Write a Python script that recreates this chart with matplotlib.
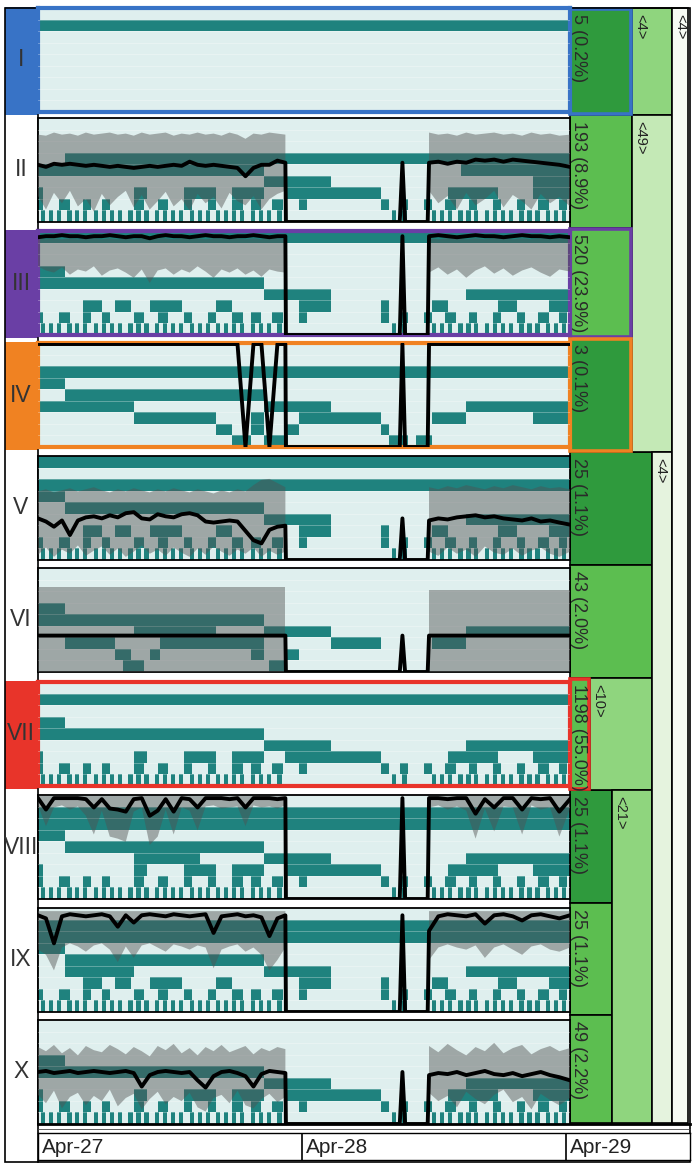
import matplotlib
matplotlib.use("Agg")
import matplotlib.pyplot as plt
import numpy as np
from matplotlib.patches import Rectangle

plt.rcParams["font.family"] = ["Liberation Sans", "DejaVu Sans"]

# ---------------- data ----------------
CLUSTERS = ["I", "II", "III", "IV", "V", "VI", "VII", "VIII", "IX", "X"]
COUNTS = ["5 (0.2%)", "193 (8.9%)", "520 (23.9%)", "3 (0.1%)", "25 (1.1%)",
          "43 (2.0%)", "1198 (55.0%)", "25 (1.1%)", "25 (1.1%)", "49 (2.2%)"]
LEAF_SHADE = ["dark", "mid", "mid", "dark", "dark", "mid", "mid", "dark", "mid", "mid"]
HIGHLIGHT = {0: "#3873c6", 2: "#6a3fa5", 3: "#f08222", 6: "#e8342a"}

TICK_DAYS = [0, 1, 2]
TICK_LABELS = ["Apr-27", "Apr-28", "Apr-29"]

# time grid (days since Apr-27 00:00)
T_A = [0.00, 0.03, 0.06, 0.09, 0.12, 0.15, 0.18, 0.21, 0.24, 0.27, 0.30, 0.33, 0.36, 0.39, 0.42, 0.45,
       0.48, 0.51, 0.54, 0.57, 0.60, 0.63, 0.66, 0.69, 0.72, 0.75, 0.78, 0.81, 0.84, 0.87, 0.90, 0.93]
T_GAP = [0.932, 1.36, 1.37, 1.38, 1.465]
T_B = [1.47, 1.505, 1.54, 1.575, 1.61, 1.645, 1.68, 1.715, 1.75, 1.785, 1.82, 1.855, 1.89, 1.925, 1.96, 2.00]

# hierarchical segment rows (start, end) in days
ROW_FULL = [(0.00, 2.00)]
ROW_HEAD = [(0.00, 0.10)]
ROW_BODY = [(0.10, 0.85)]
ROW_LEFT = [(0.00, 0.85)]
ROW_TAIL = [(0.10, 2.00)]
ROW_MID = [(0.85, 1.10), (1.61, 2.00)]
ROW_STEP = [(0.00, 0.02), (0.36, 0.41), (0.55, 0.67), (0.73, 0.85), (0.93, 1.29), (1.54, 1.73), (1.86, 2.00)]
ROW_SPARSE = [(0.17, 0.24), (0.29, 0.35), (0.42, 0.54), (0.67, 0.73), (0.98, 1.10), (1.29, 1.32),
              (1.48, 1.54), (1.73, 1.80), (1.92, 2.00)]
ROW_MED = [(0.00, 0.02), (0.08, 0.12), (0.17, 0.20), (0.24, 0.27), (0.36, 0.40), (0.45, 0.49), (0.55, 0.58),
           (0.64, 0.67), (0.73, 0.77), (0.80, 0.84), (0.88, 0.92), (0.98, 1.01), (1.29, 1.32), (1.36, 1.39),
           (1.45, 1.48), (1.53, 1.57), (1.62, 1.65), (1.71, 1.74), (1.80, 1.83), (1.88, 1.92), (1.96, 1.99)]
FINE_STARTS = [0.01, 0.04, 0.07, 0.11, 0.14, 0.17, 0.21, 0.24, 0.27, 0.30, 0.34, 0.37, 0.40, 0.44, 0.47,
               0.50, 0.53, 0.57, 0.60, 0.63, 0.67, 0.70, 0.73, 0.76, 0.80, 0.83, 0.86, 0.90, 1.33, 1.37,
               1.48, 1.51, 1.54, 1.58, 1.61, 1.64, 1.68, 1.71, 1.74, 1.77, 1.81, 1.84, 1.87, 1.91, 1.94, 1.97]
ROW_FINE = [(s, s + 0.016) for s in FINE_STARTS]

IV_R5 = [(0.00, 0.36), (0.85, 1.10), (1.61, 2.00)]
IV_R6 = [(0.36, 0.67), (0.80, 0.85), (0.98, 1.29), (1.48, 1.61), (1.86, 2.00)]
IV_R7 = [(0.67, 0.73), (0.80, 0.85), (0.93, 0.98), (1.29, 1.32)]
IV_R8 = [(0.73, 0.80), (0.85, 0.94), (1.32, 1.39), (1.42, 1.48)]
VI_R5 = [(0.36, 0.67), (0.85, 1.10), (1.61, 2.00)]
VI_R6 = [(0.10, 0.29), (0.46, 0.85), (1.10, 1.29), (1.48, 1.61)]
VI_R7 = [(0.29, 0.35), (0.42, 0.46), (0.80, 0.85), (0.93, 0.98)]
VI_R8 = [(0.32, 0.40), (0.87, 0.93)]
VIII_R5 = [(0.36, 0.61), (0.85, 1.10), (1.61, 2.00)]
IX_R5 = [(0.10, 0.36), (0.85, 1.10), (1.61, 2.00)]

PANEL_ROWS = [
    {1: ROW_FULL},
    {3: ROW_TAIL, 4: [(0.00, 0.85), (1.59, 2.00)], 5: [(0.85, 1.10), (1.86, 2.00)], 6: ROW_STEP, 7: ROW_MED, 8: ROW_FINE},
    {0: ROW_FULL, 3: ROW_HEAD, 4: ROW_LEFT, 5: ROW_MID, 6: ROW_SPARSE, 7: ROW_MED, 8: ROW_FINE},
    {2: ROW_FULL, 3: ROW_HEAD, 4: ROW_BODY, 5: IV_R5, 6: IV_R6, 7: IV_R7, 8: IV_R8},
    {0: ROW_FULL, 2: ROW_FULL, 3: ROW_HEAD, 4: ROW_BODY, 5: ROW_MID, 6: ROW_SPARSE, 7: ROW_MED, 8: ROW_FINE},
    {3: ROW_HEAD, 4: ROW_LEFT, 5: VI_R5, 6: VI_R6, 7: VI_R7, 8: VI_R8},
    {1: ROW_FULL, 3: ROW_HEAD, 4: ROW_LEFT, 5: ROW_MID, 6: ROW_STEP, 7: ROW_MED, 8: ROW_FINE},
    {1: ROW_FULL, 2: ROW_FULL, 3: ROW_HEAD, 4: ROW_BODY, 5: VIII_R5, 6: ROW_STEP, 7: ROW_MED, 8: ROW_FINE},
    {1: ROW_FULL, 2: ROW_FULL, 3: ROW_HEAD, 4: ROW_BODY, 5: IX_R5, 6: ROW_SPARSE, 7: ROW_MED, 8: ROW_FINE},
    {3: ROW_HEAD, 4: ROW_LEFT, 5: ROW_MID, 6: ROW_STEP, 7: ROW_MED, 8: ROW_FINE},
]

# mean profile (fraction of panel height) and min/max band
II_LINE_A = [0.55, 0.53, 0.56, 0.55, 0.56, 0.55, 0.54, 0.55, 0.54, 0.53, 0.54, 0.53, 0.52, 0.53, 0.54, 0.53,
             0.54, 0.55, 0.54, 0.58, 0.55, 0.54, 0.55, 0.54, 0.53, 0.52, 0.44, 0.52, 0.55, 0.55, 0.59, 0.57]
II_LINE_B = [0.57, 0.58, 0.56, 0.58, 0.57, 0.60, 0.59, 0.60, 0.58, 0.60, 0.59, 0.58, 0.57, 0.56, 0.55, 0.53]
II_UP_A = [0.84, 0.83, 0.86, 0.84, 0.85, 0.83, 0.86, 0.84, 0.85, 0.86, 0.84, 0.85, 0.83, 0.86, 0.84, 0.85,
           0.86, 0.83, 0.85, 0.84, 0.86, 0.84, 0.85, 0.83, 0.86, 0.84, 0.80, 0.85, 0.84, 0.86, 0.85, 0.84]
II_LO_A = [0.25, 0.12, 0.28, 0.18, 0.30, 0.15, 0.22, 0.10, 0.27, 0.16, 0.24, 0.30, 0.14, 0.26, 0.12, 0.20,
           0.29, 0.15, 0.22, 0.11, 0.27, 0.18, 0.24, 0.13, 0.28, 0.20, 0.16, 0.25, 0.12, 0.22, 0.27, 0.30]
II_UP_B = [0.86, 0.84, 0.85, 0.83, 0.86, 0.84, 0.85, 0.86, 0.84, 0.85, 0.83, 0.86, 0.84, 0.85, 0.83, 0.84]
II_LO_B = [0.30, 0.18, 0.25, 0.12, 0.28, 0.16, 0.22, 0.30, 0.14, 0.26, 0.20, 0.12, 0.27, 0.18, 0.24, 0.15]

III_LINE_A = [0.94, 0.95, 0.95, 0.96, 0.95, 0.95, 0.94, 0.95, 0.95, 0.96, 0.95, 0.94, 0.95, 0.95, 0.93, 0.95,
              0.96, 0.95, 0.95, 0.94, 0.95, 0.96, 0.95, 0.95, 0.94, 0.95, 0.95, 0.96, 0.95, 0.94, 0.95, 0.95]
III_LINE_B = [0.95, 0.96, 0.95, 0.94, 0.95, 0.96, 0.95, 0.95, 0.94, 0.95, 0.96, 0.95, 0.95, 0.94, 0.95, 0.94]
III_UP_A = [0.93, 0.92, 0.93, 0.92, 0.93, 0.92, 0.93, 0.93, 0.92, 0.93, 0.92, 0.93, 0.92, 0.93, 0.92, 0.93,
            0.93, 0.92, 0.93, 0.92, 0.93, 0.92, 0.93, 0.93, 0.92, 0.93, 0.92, 0.93, 0.92, 0.93, 0.93, 0.92]
III_LO_A = [0.66, 0.62, 0.60, 0.65, 0.58, 0.63, 0.61, 0.66, 0.57, 0.62, 0.64, 0.60, 0.55, 0.63, 0.50, 0.62,
            0.64, 0.58, 0.63, 0.60, 0.66, 0.61, 0.55, 0.63, 0.60, 0.64, 0.58, 0.62, 0.56, 0.63, 0.61, 0.60]
III_UP_B = [0.93, 0.92, 0.93, 0.93, 0.92, 0.93, 0.92, 0.93, 0.93, 0.92, 0.93, 0.92, 0.93, 0.92, 0.93, 0.93]
III_LO_B = [0.60, 0.65, 0.58, 0.63, 0.55, 0.62, 0.66, 0.59, 0.64, 0.57, 0.62, 0.65, 0.60, 0.56, 0.63, 0.61]

IV_LINE_A = [0.99, 0.99, 0.99, 0.99, 0.99, 0.99, 0.99, 0.99, 0.99, 0.99, 0.99, 0.99, 0.99, 0.99, 0.99, 0.99,
             0.99, 0.99, 0.99, 0.99, 0.99, 0.99, 0.99, 0.99, 0.99, 0.99, 0.00, 0.99, 0.99, 0.00, 0.99, 0.99]
IV_LINE_B = [0.99, 0.99, 0.99, 0.99, 0.99, 0.99, 0.99, 0.99, 0.99, 0.99, 0.99, 0.99, 0.99, 0.99, 0.99, 0.99]

V_LINE_A = [0.40, 0.37, 0.32, 0.38, 0.24, 0.38, 0.41, 0.42, 0.40, 0.43, 0.41, 0.45, 0.46, 0.40, 0.39, 0.44,
            0.42, 0.41, 0.44, 0.45, 0.43, 0.37, 0.36, 0.37, 0.38, 0.37, 0.28, 0.19, 0.16, 0.29, 0.32, 0.33]
V_LINE_B = [0.38, 0.40, 0.39, 0.41, 0.42, 0.43, 0.41, 0.42, 0.40, 0.39, 0.38, 0.40, 0.37, 0.38, 0.36, 0.34]
V_UP_A = [0.66, 0.68, 0.65, 0.67, 0.69, 0.66, 0.68, 0.70, 0.67, 0.65, 0.68, 0.66, 0.69, 0.67, 0.65, 0.68,
          0.66, 0.69, 0.67, 0.65, 0.68, 0.66, 0.64, 0.67, 0.65, 0.68, 0.66, 0.72, 0.77, 0.78, 0.74, 0.70]
V_LO_A = [0.05, 0.12, 0.03, 0.10, 0.06, 0.14, 0.04, 0.09, 0.13, 0.05, 0.11, 0.03, 0.08, 0.14, 0.06, 0.10,
          0.04, 0.12, 0.07, 0.03, 0.11, 0.05, 0.13, 0.08, 0.04, 0.10, 0.06, 0.12, 0.03, 0.09, 0.05, 0.08]
V_UP_B = [0.70, 0.68, 0.71, 0.69, 0.72, 0.70, 0.68, 0.71, 0.69, 0.72, 0.70, 0.68, 0.71, 0.69, 0.70, 0.68]
V_LO_B = [0.08, 0.04, 0.12, 0.06, 0.10, 0.03, 0.13, 0.07, 0.05, 0.11, 0.04, 0.09, 0.12, 0.06, 0.03, 0.08]

VI_LINE_A = [0.35, 0.35, 0.35, 0.35, 0.35, 0.35, 0.35, 0.35, 0.35, 0.35, 0.35, 0.35, 0.35, 0.35, 0.35, 0.35,
             0.35, 0.35, 0.35, 0.35, 0.35, 0.35, 0.35, 0.35, 0.35, 0.35, 0.35, 0.35, 0.35, 0.35, 0.35, 0.35]
VI_LINE_B = [0.35, 0.35, 0.35, 0.35, 0.35, 0.35, 0.35, 0.35, 0.35, 0.35, 0.35, 0.35, 0.35, 0.35, 0.35, 0.35]
VI_UP_A = [0.82, 0.82, 0.82, 0.82, 0.82, 0.82, 0.82, 0.82, 0.82, 0.82, 0.82, 0.82, 0.82, 0.82, 0.82, 0.82,
           0.82, 0.82, 0.82, 0.82, 0.82, 0.82, 0.82, 0.82, 0.82, 0.82, 0.82, 0.82, 0.82, 0.82, 0.82, 0.82]
VI_LO_A = [0.00, 0.00, 0.00, 0.00, 0.00, 0.00, 0.00, 0.00, 0.00, 0.00, 0.00, 0.00, 0.00, 0.00, 0.00, 0.00,
           0.00, 0.00, 0.00, 0.00, 0.00, 0.00, 0.00, 0.00, 0.00, 0.00, 0.00, 0.00, 0.00, 0.00, 0.00, 0.00]
VI_UP_B = [0.79, 0.79, 0.79, 0.79, 0.79, 0.79, 0.79, 0.79, 0.79, 0.79, 0.79, 0.79, 0.79, 0.79, 0.79, 0.79]
VI_LO_B = [0.00, 0.00, 0.00, 0.00, 0.00, 0.00, 0.00, 0.00, 0.00, 0.00, 0.00, 0.00, 0.00, 0.00, 0.00, 0.00]

VIII_LINE_A = [0.97, 0.86, 0.97, 0.97, 0.97, 0.97, 0.96, 0.88, 0.96, 0.87, 0.86, 0.84, 0.96, 0.97, 0.80, 0.85,
               0.96, 0.84, 0.97, 0.96, 0.88, 0.97, 0.97, 0.97, 0.96, 0.97, 0.88, 0.97, 0.97, 0.97, 0.96, 0.97]
VIII_LINE_B = [0.97, 0.97, 0.96, 0.97, 0.97, 0.82, 0.96, 0.88, 0.97, 0.97, 0.86, 0.97, 0.96, 0.97, 0.84, 0.96]
VIII_UP_A = [0.99, 0.99, 0.99, 0.99, 0.99, 0.99, 0.99, 0.99, 0.99, 0.99, 0.99, 0.99, 0.99, 0.99, 0.99, 0.99,
             0.99, 0.99, 0.99, 0.99, 0.99, 0.99, 0.99, 0.99, 0.99, 0.99, 0.99, 0.99, 0.99, 0.99, 0.99, 0.99]
VIII_LO_A = [0.90, 0.70, 0.88, 0.90, 0.86, 0.89, 0.80, 0.62, 0.85, 0.60, 0.58, 0.55, 0.84, 0.88, 0.52, 0.60,
             0.86, 0.62, 0.88, 0.85, 0.66, 0.89, 0.90, 0.87, 0.88, 0.89, 0.70, 0.90, 0.88, 0.89, 0.87, 0.90]
VIII_UP_B = [0.99, 0.99, 0.99, 0.99, 0.99, 0.99, 0.99, 0.99, 0.99, 0.99, 0.99, 0.99, 0.99, 0.99, 0.99, 0.99]
VIII_LO_B = [0.88, 0.90, 0.86, 0.89, 0.85, 0.58, 0.87, 0.65, 0.89, 0.88, 0.62, 0.90, 0.86, 0.88, 0.60, 0.87]

IX_LINE_A = [0.93, 0.90, 0.66, 0.92, 0.94, 0.93, 0.92, 0.93, 0.94, 0.92, 0.82, 0.93, 0.86, 0.93, 0.94, 0.93,
             0.92, 0.94, 0.93, 0.92, 0.93, 0.94, 0.76, 0.92, 0.93, 0.94, 0.92, 0.93, 0.91, 0.73, 0.90, 0.93]
IX_LINE_B = [0.78, 0.92, 0.94, 0.93, 0.92, 0.94, 0.85, 0.93, 0.94, 0.92, 0.88, 0.93, 0.94, 0.92, 0.90, 0.93]
IX_UP_A = [0.97, 0.97, 0.97, 0.97, 0.97, 0.97, 0.97, 0.97, 0.97, 0.97, 0.97, 0.97, 0.97, 0.97, 0.97, 0.97,
           0.97, 0.97, 0.97, 0.97, 0.97, 0.97, 0.97, 0.97, 0.97, 0.97, 0.97, 0.97, 0.97, 0.97, 0.97, 0.97]
IX_LO_A = [0.60, 0.55, 0.40, 0.62, 0.66, 0.63, 0.58, 0.64, 0.66, 0.60, 0.48, 0.63, 0.52, 0.64, 0.66, 0.62,
           0.58, 0.65, 0.63, 0.60, 0.64, 0.62, 0.42, 0.60, 0.63, 0.65, 0.58, 0.62, 0.55, 0.40, 0.50, 0.62]
IX_UP_B = [0.97, 0.97, 0.97, 0.97, 0.97, 0.97, 0.97, 0.97, 0.97, 0.97, 0.97, 0.97, 0.97, 0.97, 0.97, 0.97]
IX_LO_B = [0.50, 0.62, 0.65, 0.62, 0.60, 0.64, 0.52, 0.62, 0.65, 0.60, 0.55, 0.63, 0.65, 0.60, 0.58, 0.62]

X_LINE_A = [0.50, 0.51, 0.49, 0.50, 0.51, 0.49, 0.50, 0.51, 0.50, 0.49, 0.50, 0.51, 0.49, 0.36, 0.47, 0.50,
            0.51, 0.50, 0.49, 0.50, 0.42, 0.35, 0.46, 0.50, 0.51, 0.49, 0.46, 0.36, 0.48, 0.51, 0.50, 0.49]
X_LINE_B = [0.47, 0.49, 0.48, 0.50, 0.47, 0.49, 0.51, 0.48, 0.47, 0.49, 0.46, 0.48, 0.50, 0.47, 0.45, 0.42]
X_UP_A = [0.74, 0.70, 0.76, 0.68, 0.73, 0.66, 0.75, 0.71, 0.69, 0.76, 0.72, 0.67, 0.74, 0.70, 0.65, 0.75,
          0.71, 0.77, 0.68, 0.73, 0.66, 0.74, 0.70, 0.76, 0.69, 0.72, 0.75, 0.67, 0.73, 0.70, 0.74, 0.72]
X_LO_A = [0.28, 0.20, 0.32, 0.15, 0.26, 0.30, 0.18, 0.27, 0.22, 0.33, 0.17, 0.25, 0.29, 0.14, 0.24, 0.31,
          0.19, 0.26, 0.22, 0.30, 0.16, 0.12, 0.25, 0.28, 0.20, 0.32, 0.18, 0.15, 0.24, 0.29, 0.21, 0.26]
X_UP_B = [0.75, 0.69, 0.77, 0.71, 0.66, 0.74, 0.70, 0.78, 0.68, 0.73, 0.76, 0.67, 0.72, 0.75, 0.70, 0.73]
X_LO_B = [0.30, 0.22, 0.27, 0.16, 0.31, 0.24, 0.19, 0.28, 0.33, 0.21, 0.26, 0.14, 0.29, 0.23, 0.18, 0.25]

# panel index -> (line A, line B, upper A, upper B, lower A, lower B, spike height)
SERIES = {
    1: (II_LINE_A, II_LINE_B, II_UP_A, II_UP_B, II_LO_A, II_LO_B, 0.57),
    2: (III_LINE_A, III_LINE_B, III_UP_A, III_UP_B, III_LO_A, III_LO_B, 0.95),
    3: (IV_LINE_A, IV_LINE_B, None, None, None, None, 0.99),
    4: (V_LINE_A, V_LINE_B, V_UP_A, V_UP_B, V_LO_A, V_LO_B, 0.40),
    5: (VI_LINE_A, VI_LINE_B, VI_UP_A, VI_UP_B, VI_LO_A, VI_LO_B, 0.35),
    7: (VIII_LINE_A, VIII_LINE_B, VIII_UP_A, VIII_UP_B, VIII_LO_A, VIII_LO_B, 0.97),
    8: (IX_LINE_A, IX_LINE_B, IX_UP_A, IX_UP_B, IX_LO_A, IX_LO_B, 0.93),
    9: (X_LINE_A, X_LINE_B, X_UP_A, X_UP_B, X_LO_A, X_LO_B, 0.50),
}

# cluster tree: (label, first cluster, last cluster, left px, right px, shade)
LEAF_RIGHT = [632, 632, 632, 632, 652, 652, 590, 612, 612, 612]
TREE_NODES = [
    ("<4>", 0, 0, 632, 672, "light"),
    ("<49>", 1, 3, 632, 672, "pale"),
    ("<10>", 6, 6, 590, 652, "light"),
    ("<21>", 7, 9, 612, 652, "light"),
    ("<4>", 4, 9, 652, 672, "paler"),
    ("<4>", 0, 9, 672, 688, "palest"),
]

# ---------------- layout / style ----------------
W, H = 692, 1166
PLOT_X0, PLOT_X1 = 38, 570
PANEL_TOPS = [8, 118, 231, 343, 456, 568, 682, 795, 908, 1020]
PANEL_H = 104
TREE_Y = [8, 115, 228, 338, 452, 565, 678, 790, 903, 1015, 1123]
N_ROWS = 9

BG = "#dfefee"
TEAL = "#1f827e"
BAND = "#505050"
SHADES = {"dark": "#2f9a3d", "mid": "#5cbe50", "light": "#8fd57e", "pale": "#c4e9b6",
          "paler": "#e5f3de", "palest": "#f7fbf4"}


def fig_box(x0, y0, x1, y1):
    return [x0 / W, 1 - y1 / H, (x1 - x0) / W, (y1 - y0) / H]


fig = plt.figure(figsize=(W / 100, H / 100), dpi=100)
fig.patch.set_facecolor("white")

ov = fig.add_axes([0, 0, 1, 1])
ov.set_xlim(0, W)
ov.set_ylim(H, 0)
ov.axis("off")

# outer frame and label column
ov.add_patch(Rectangle((5, 8), 685, 1154, facecolor="none", edgecolor="black", lw=1.2, zorder=5))
ov.plot([38, 38], [8, 1162], color="black", lw=1.2, zorder=5)
for i, name in enumerate(CLUSTERS):
    top = PANEL_TOPS[i]
    if i in HIGHLIGHT:
        ov.add_patch(Rectangle((5, top - 1), 33, PANEL_H + 4, facecolor=HIGHLIGHT[i], edgecolor="none", zorder=2))
    ov.text(21, top + PANEL_H / 2, name, ha="center", va="center", fontsize=16.5, color="#333333", zorder=6)

# bottom strip lines
ov.plot([38, 690], [1124, 1124], color="black", lw=2.0, zorder=5)
ov.plot([38, 690], [1128.5, 1128.5], color="#444444", lw=0.6, zorder=5)

# tree
for i in range(len(CLUSTERS)):
    y0, y1 = TREE_Y[i], TREE_Y[i + 1]
    ov.add_patch(Rectangle((570, y0), LEAF_RIGHT[i] - 570, y1 - y0, facecolor=SHADES[LEAF_SHADE[i]],
                           edgecolor="black", lw=1.2, zorder=3))
for label, first, last, x0, x1, shade in TREE_NODES:
    y0, y1 = TREE_Y[first], TREE_Y[last + 1]
    ov.add_patch(Rectangle((x0, y0), x1 - x0, y1 - y0, facecolor=SHADES[shade],
                           edgecolor="black", lw=1.2, zorder=3))
    ov.text(x0 + 8, y0 + 6, label, rotation=-90, ha="center", va="top", fontsize=10.5,
            color="#222222", zorder=6)
for i in range(len(CLUSTERS)):
    y0, y1 = TREE_Y[i], TREE_Y[i + 1]
    if i in HIGHLIGHT:
        ov.add_patch(Rectangle((570, y0 + 1), LEAF_RIGHT[i] - 570 - 1, y1 - y0 - 2, facecolor="none",
                               edgecolor=HIGHLIGHT[i], lw=2.6, zorder=4))
    ov.text(579, y0 + 6, COUNTS[i], rotation=-90, ha="center", va="top", fontsize=13,
            color="#2a2a2a", zorder=6)

# panels
for i, name in enumerate(CLUSTERS):
    top = PANEL_TOPS[i]
    ax = fig.add_axes(fig_box(PLOT_X0, top, PLOT_X1, top + PANEL_H))
    ax.set_xlim(0, 2)
    ax.set_ylim(0, 1)
    ax.set_facecolor(BG)
    ax.set_xticks([])
    ax.set_yticks([])
    for r, segs in PANEL_ROWS[i].items():
        ax.broken_barh([(a, b - a) for a, b in segs], (1 - (r + 1) / N_ROWS, 1 / N_ROWS),
                       facecolors=TEAL, edgecolor="none", zorder=2)
    for k in range(1, N_ROWS):
        ax.axhline(k / N_ROWS, color="white", lw=0.6, alpha=0.35, zorder=3)

    if i in SERIES:
        line_a, line_b, up_a, up_b, lo_a, lo_b, spike = SERIES[i]
        t = np.array(T_A + T_GAP + T_B)
        if up_a is not None:
            gap = [np.nan] * len(T_GAP)
            upper = np.array(up_a + gap + up_b)
            lower = np.array(lo_a + gap + lo_b)
            ax.fill_between(t, lower, upper, color=BAND, alpha=0.45, lw=0, zorder=4)
        y = np.array(line_a + [0, 0, spike, 0, 0] + line_b)
        ax.plot(t, y, color="black", lw=2.8, zorder=5)

    color = HIGHLIGHT.get(i, "black")
    width = 3.0 if i in HIGHLIGHT else 1.3
    for sp in ax.spines.values():
        sp.set_color(color)
        sp.set_linewidth(width)

# date axis strip
axd = fig.add_axes(fig_box(PLOT_X0, 1133, 690, 1160))
axd.set_xlim(0, (690 - PLOT_X0) / (302 - PLOT_X0))
axd.set_ylim(0, 1)
axd.set_xticks([])
axd.set_yticks([])
for sp in axd.spines.values():
    sp.set_linewidth(1.0)
for d, lab in zip(TICK_DAYS, TICK_LABELS):
    axd.axvline(d, color="black", lw=1.2)
    axd.text(d + 0.015, 0.45, lab, ha="left", va="center", fontsize=15, color="#222222")

fig.savefig("out.png", dpi=100)
